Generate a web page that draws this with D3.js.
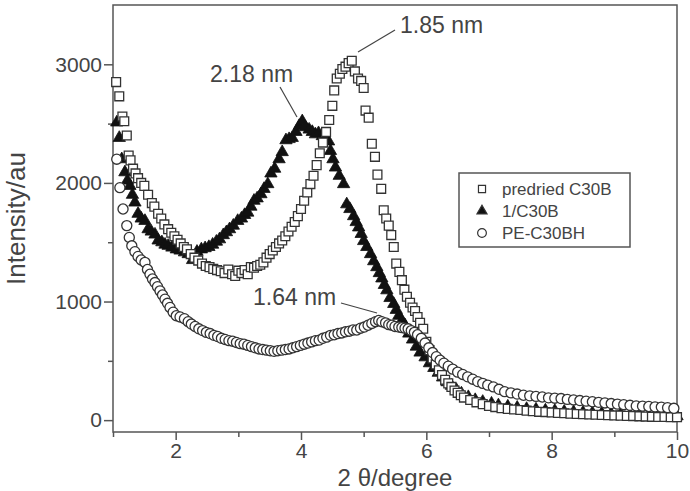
<!DOCTYPE html>
<html>
<head>
<meta charset="utf-8">
<script src="https://cdn.jsdelivr.net/npm/d3@7"></script>
<style>
  body { margin: 0; background: #fff; }
  text { font-family: "Liberation Sans", Arial, sans-serif; fill: #444; }
</style>
</head>
<body>
<div id="container"></div>
<script>
// 2θ (degree) vs intensity (au)
const predried = [
  [1.05,2850],[1.10,2730],[1.15,2560],[1.18,2520],[1.22,2400],[1.25,2230],[1.28,2190],[1.32,2120],
  [1.36,2080],[1.40,2040],[1.45,2000],[1.50,1975],[1.56,1900],[1.62,1830],[1.66,1800],[1.72,1740],
  [1.77,1700],[1.82,1650],[1.88,1610],[1.93,1580],[1.98,1550],[2.03,1520],[2.08,1490],[2.13,1460],
  [2.18,1440],[2.24,1400],[2.30,1370],[2.36,1345],[2.42,1320],[2.48,1300],[2.54,1290],[2.60,1275],
  [2.66,1265],[2.72,1255],[2.78,1240],[2.84,1270],[2.90,1230],[2.95,1215],[3.00,1260],[3.05,1240],
  [3.10,1265],[3.15,1230],[3.20,1290],[3.25,1285],[3.30,1300],[3.35,1310],[3.40,1330],[3.45,1370],
  [3.50,1400],[3.55,1430],[3.60,1460],[3.65,1490],[3.70,1515],[3.75,1550],[3.80,1590],[3.85,1630],
  [3.90,1670],[3.95,1720],[4.00,1780],[4.05,1850],[4.10,1920],[4.15,1990],[4.20,2060],[4.25,2150],
  [4.30,2250],[4.35,2340],[4.40,2430],[4.45,2530],[4.50,2650],[4.53,2780],[4.57,2880],[4.62,2920],
  [4.66,2960],[4.71,2980],[4.76,3010],[4.81,3030],[4.86,2940],[4.91,2880],[4.96,2860],[5.00,2800],
  [5.03,2610],[5.08,2550],[5.13,2330],[5.18,2220],[5.22,2070],[5.28,1950],[5.32,1770],[5.36,1700],
  [5.40,1640],[5.44,1560],[5.48,1460],[5.52,1320],[5.57,1250],[5.61,1180],[5.65,1100],[5.69,1040],
  [5.74,990],[5.78,950],[5.82,920],[5.86,870],[5.90,820],[5.95,770],[6.00,660],[6.05,590],
  [6.10,520],[6.15,470],[6.20,420],[6.25,380],[6.30,340],[6.35,310],[6.40,280],[6.45,250],
  [6.50,230],[6.55,210],[6.60,190],[6.70,170],[6.80,150],[6.90,135],[7.00,120],[7.10,110],
  [7.20,100],[7.30,95],[7.40,90],[7.50,85],[7.60,80],[7.70,75],[7.80,70],[7.90,68],
  [8.00,65],[8.10,60],[8.20,58],[8.30,55],[8.40,52],[8.50,50],[8.60,48],[8.70,45],
  [8.80,43],[8.90,42],[9.00,40],[9.10,38],[9.20,36],[9.30,34],[9.40,32],[9.50,30],
  [9.60,28],[9.70,27],[9.80,26],[9.90,25],[10.0,25]
]

const oneC30B = [
  [1.06,2510],[1.10,2380],[1.14,2200],[1.19,2090],[1.23,2020],[1.27,1975],[1.31,1900],[1.35,1835],
  [1.40,1740],[1.45,1700],[1.51,1680],[1.56,1610],[1.61,1590],[1.67,1565],[1.72,1515],[1.78,1500],
  [1.83,1480],[1.88,1470],[1.94,1455],[2.01,1440],[2.07,1430],[2.14,1415],[2.20,1400],[2.27,1350],
  [2.34,1420],[2.41,1440],[2.47,1450],[2.53,1460],[2.59,1480],[2.65,1505],[2.70,1525],[2.76,1560],
  [2.81,1585],[2.86,1610],[2.92,1640],[2.99,1680],[3.05,1700],[3.10,1730],[3.15,1750],[3.20,1800],
  [3.25,1850],[3.30,1870],[3.36,1905],[3.41,1950],[3.47,1990],[3.52,2080],[3.58,2120],[3.65,2200],
  [3.70,2260],[3.76,2360],[3.81,2370],[3.86,2380],[3.92,2430],[3.97,2480],[4.02,2520],[4.07,2470],
  [4.13,2450],[4.18,2430],[4.23,2410],[4.28,2420],[4.34,2395],[4.39,2370],[4.44,2350],[4.47,2270],
  [4.51,2200],[4.55,2130],[4.61,2060],[4.68,1990],[4.73,1820],[4.78,1780],[4.84,1720],[4.88,1670],
  [4.92,1625],[4.96,1570],[5.00,1510],[5.05,1460],[5.11,1400],[5.16,1340],[5.21,1290],[5.25,1240],
  [5.29,1195],[5.33,1140],[5.37,1095],[5.42,1030],[5.48,980],[5.52,930],[5.56,880],[5.61,840],
  [5.66,800],[5.72,730],[5.78,680],[5.84,620],[5.90,570],[5.98,530],[6.05,480],[6.12,440],
  [6.19,400],[6.26,360],[6.33,320],[6.40,290],[6.48,255],[6.56,225],[6.67,195],[6.78,170],
  [6.90,155],[7.04,140],[7.15,125],[7.30,115],[7.45,105],[7.60,95],[7.75,90],[7.90,82],
  [8.05,78],[8.20,72],[8.35,68],[8.50,64],[8.65,60],[8.80,56],[8.95,52],[9.10,48],
  [9.25,45],[9.40,42],[9.55,40],[9.70,37],[9.85,35],[10.0,33]
]

const peC30BH = [
  [1.06,2200],[1.11,1960],[1.16,1780],[1.22,1640],[1.26,1540],[1.30,1470],[1.35,1420],[1.40,1380],
  [1.45,1350],[1.51,1330],[1.55,1270],[1.59,1230],[1.63,1190],[1.67,1160],[1.71,1125],[1.75,1090],
  [1.79,1055],[1.83,1020],[1.87,985],[1.91,950],[1.96,910],[2.01,880],[2.07,870],[2.14,855],
  [2.20,830],[2.25,810],[2.31,790],[2.37,770],[2.43,755],[2.49,740],[2.55,730],[2.61,715],
  [2.67,705],[2.73,690],[2.79,680],[2.85,670],[2.91,665],[2.97,655],[3.03,645],[3.09,640],
  [3.15,630],[3.21,620],[3.27,610],[3.33,600],[3.39,595],[3.45,590],[3.51,585],[3.57,580],
  [3.63,585],[3.69,590],[3.75,595],[3.81,600],[3.87,610],[3.93,620],[3.99,630],[4.05,640],
  [4.11,650],[4.17,660],[4.23,670],[4.29,675],[4.35,690],[4.41,700],[4.47,715],[4.53,720],
  [4.59,730],[4.65,735],[4.71,745],[4.77,750],[4.83,760],[4.89,760],[4.95,775],[5.01,785],
  [5.07,800],[5.13,815],[5.19,830],[5.24,840],[5.29,830],[5.35,820],[5.40,805],[5.45,800],
  [5.50,790],[5.56,785],[5.61,780],[5.66,775],[5.71,770],[5.76,755],[5.81,740],[5.86,720],
  [5.92,690],[5.98,650],[6.04,610],[6.10,570],[6.16,535],[6.22,505],[6.28,480],[6.35,455],
  [6.42,430],[6.50,405],[6.58,385],[6.66,365],[6.74,345],[6.82,325],[6.90,310],[6.98,295],
  [7.07,280],[7.16,260],[7.25,240],[7.35,230],[7.45,220],[7.55,210],[7.65,205],[7.75,200],
  [7.85,195],[7.95,188],[8.05,185],[8.15,182],[8.25,175],[8.35,170],[8.45,165],[8.55,160],
  [8.65,155],[8.75,150],[8.85,145],[8.95,140],[9.05,135],[9.15,130],[9.25,125],[9.35,120],
  [9.45,118],[9.55,115],[9.65,112],[9.75,110],[9.85,105],[9.95,100]
]

const xMajor = [2, 4, 6, 8, 10]
const xMinor = [1, 3, 5, 7, 9]
const yMajor = [0, 1000, 2000, 3000]
const yMinor = [500, 1500, 2500]
const legendLabels = ["predried C30B", "1/C30B", "PE-C30BH"]
const notes = [
  { text: "1.85 nm", at: [4.81, 3030] },
  { text: "2.18 nm", at: [4.02, 2520] },
  { text: "1.64 nm", at: [5.24, 840] }
]

const W = 690, H = 491
const margin = { left: 113, right: 13, top: 5, bottom: 59 }
const axisColor = "#555"

const svg = d3.select("#container").append("svg").attr("width", W).attr("height", H)

const x = d3.scaleLinear().domain([1, 10]).range([margin.left, W - margin.right])
const y = d3.scaleLinear().domain([-100, 3500]).range([H - margin.bottom, margin.top])

// frame
svg.append("rect")
  .attr("x", x(1)).attr("y", y(3500))
  .attr("width", x(10) - x(1)).attr("height", y(-100) - y(3500))
  .attr("fill", "none").attr("stroke", axisColor).attr("stroke-width", 1.5)

const styleAxis = g => {
  g.select(".domain").remove()
  g.selectAll(".tick line").attr("stroke", axisColor).attr("stroke-width", 1.5)
  g.selectAll(".tick text").style("font-size", "21px").attr("fill", "#444")
}

svg.append("g").attr("transform", `translate(0,${y(-100)})`)
  .call(d3.axisBottom(x).tickValues(xMajor).tickSize(8).tickPadding(3).tickFormat(d3.format("d")))
  .call(styleAxis)
svg.append("g").attr("transform", `translate(0,${y(-100)})`)
  .call(d3.axisBottom(x).tickValues(xMinor).tickSize(5).tickFormat(""))
  .call(styleAxis)
svg.append("g").attr("transform", `translate(${x(1)},0)`)
  .call(d3.axisLeft(y).tickValues(yMajor).tickSize(9).tickPadding(2).tickFormat(d3.format("d")))
  .call(styleAxis)
svg.append("g").attr("transform", `translate(${x(1)},0)`)
  .call(d3.axisLeft(y).tickValues(yMinor).tickSize(5).tickFormat(""))
  .call(styleAxis)

// axis titles
svg.append("text")
  .attr("transform", `translate(25,${(y(-100) + y(3500)) / 2}) rotate(-90)`)
  .attr("text-anchor", "middle").style("font-size", "26px")
  .text("Intensity/au")
svg.append("text")
  .attr("x", 395).attr("y", 485.5)
  .attr("text-anchor", "middle").style("font-size", "24px")
  .text("2 θ/degree")

// markers
const sq = d3.symbol().type(d3.symbolSquare).size(78)
const tri = d3.symbol().type(d3.symbolTriangle).size(66)
const circ = d3.symbol().type(d3.symbolCircle).size(80)

const plot = svg.append("g")
plot.selectAll(".tri").data(oneC30B).enter().append("path")
  .attr("class", "tri").attr("d", tri)
  .attr("transform", d => `translate(${x(d[0])},${y(d[1])})`)
  .attr("fill", "#111").attr("stroke", "#111").attr("stroke-width", 0.8)
plot.selectAll(".sq").data(predried).enter().append("path")
  .attr("class", "sq").attr("d", sq)
  .attr("transform", d => `translate(${x(d[0])},${y(d[1])})`)
  .attr("fill", "#fff").attr("stroke", "#333").attr("stroke-width", 1.3)
plot.selectAll(".circ").data(peC30BH).enter().append("path")
  .attr("class", "circ").attr("d", circ)
  .attr("transform", d => `translate(${x(d[0])},${y(d[1])})`)
  .attr("fill", "#fff").attr("stroke", "#333").attr("stroke-width", 1.3)

// peak annotations
const notePos = [
  { tx: 400, ty: 33, line: [[358, 52], [395, 30]] },
  { tx: 210, ty: 82, line: [[280, 87], [297, 117]] },
  { tx: 253, ty: 305, line: [[341, 303], [377, 313]] }
]
notes.forEach((n, i) => {
  const p = notePos[i]
  svg.append("text").attr("x", p.tx).attr("y", p.ty).style("font-size", "23px").text(n.text)
  svg.append("path").attr("d", d3.line()(p.line)).attr("stroke", "#444").attr("stroke-width", 1.2).attr("fill", "none")
})

// legend
const lg = svg.append("g")
lg.append("rect").attr("x", 459).attr("y", 173).attr("width", 171).attr("height", 74)
  .attr("fill", "#fff").attr("stroke", axisColor).attr("stroke-width", 1.5)
const legSyms = [
  { d: d3.symbol().type(d3.symbolSquare).size(50)(), fill: "#fff" },
  { d: d3.symbol().type(d3.symbolTriangle).size(44)(), fill: "#111" },
  { d: d3.symbol().type(d3.symbolCircle).size(60)(), fill: "#fff" }
]
legendLabels.forEach((lab, i) => {
  const cy = 189 + i * 22
  lg.append("path").attr("d", legSyms[i].d).attr("transform", `translate(482,${cy})`)
    .attr("fill", legSyms[i].fill).attr("stroke", "#333").attr("stroke-width", 1.2)
  lg.append("text").attr("x", 502).attr("y", cy + 6).style("font-size", "17px").text(lab)
})
</script>
</body>
</html>
